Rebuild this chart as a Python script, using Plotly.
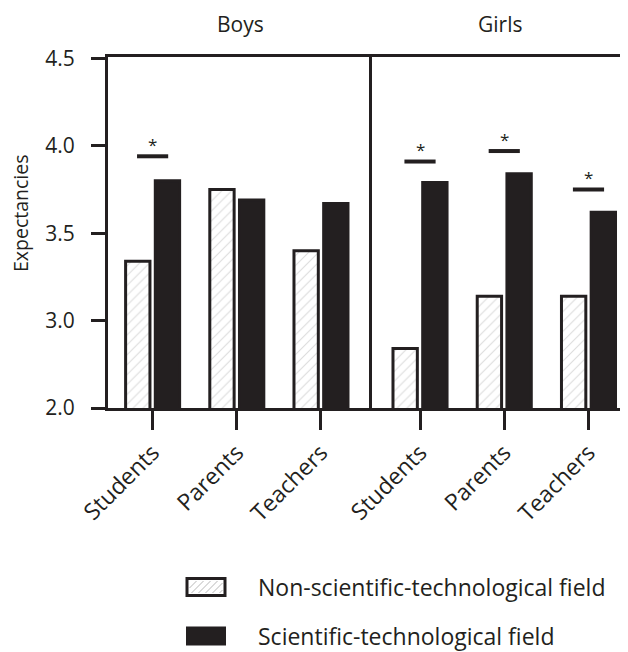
import plotly.graph_objects as go

# ---------------- data ----------------
categories = ["Students", "Parents", "Teachers"]
boys_non_sci = [3.34, 3.75, 3.40]
boys_sci = [3.80, 3.69, 3.67]
girls_non_sci = [2.84, 3.14, 3.14]
girls_sci = [3.79, 3.84, 3.62]
boys_sig = [3.94, None, None]      # height of significance bar (None = n.s.)
girls_sig = [3.91, 3.97, 3.75]
y_tick_vals = [2.5, 3.0, 3.5, 4.0, 4.5]
y_tick_text = ["2.0", "3.0", "3.5", "4.0", "4.5"]
panel_titles = ["Boys", "Girls"]
series_names = ["Non-scientific-technological field", "Scientific-technological field"]
y_title = "Expectancies"

# ---------------- layout constants ----------------
OFF = 8                      # default page body margin
W, H = 628 - OFF, 652 - OFF
L, R, T = 108 - OFF, 0, 57 - OFF
plot_bottom = 408 - OFF
B = H - plot_bottom
PW = W - L - R
PH = H - T - B
split_px = 372 - OFF
dom_split = (split_px - L) / PW
INK = "#231f20"
FONT = "Open Sans"


def pxx(x):
    """page pixel x -> paper"""
    return (x - OFF - L) / PW


def pxy(y):
    """page pixel y -> paper"""
    return (plot_bottom - (y - OFF)) / PH


fig = go.Figure()
x_idx = list(range(len(categories)))
panels = [
    (boys_non_sci, boys_sci, boys_sig, "x", "y"),
    (girls_non_sci, girls_sci, girls_sig, "x2", "y2"),
]
for non, sci, sig, xa, ya in panels:
    fig.add_trace(go.Bar(
        x=x_idx, y=non, xaxis=xa, yaxis=ya, name=series_names[0], showlegend=False,
        marker=dict(color="white", line=dict(color=INK, width=3),
                    pattern=dict(shape="/", fgcolor="#b8b8b8", bgcolor="white",
                                 size=7, solidity=0.15)),
        hoverinfo="y",
    ))
    fig.add_trace(go.Bar(
        x=x_idx, y=sci, xaxis=xa, yaxis=ya, name=series_names[1], showlegend=False,
        marker=dict(color=INK, line=dict(color=INK, width=3)),
        hoverinfo="y",
    ))

shapes = []
annotations = []
for non, sci, sig, xa, ya in panels:
    for i, s in enumerate(sig):
        if s is None:
            continue
        shapes.append(dict(type="line", xref=xa, yref=ya, x0=i - 0.185, x1=i + 0.185,
                           y0=s, y1=s, line=dict(color=INK, width=4)))
        annotations.append(dict(xref=xa, yref=ya, x=i, y=s, text="*", showarrow=False,
                                yanchor="middle", yshift=12,
                                font=dict(family=FONT, size=17, color=INK)))

# panel headers
for title, xa in zip(panel_titles, ["x domain", "x2 domain"]):
    annotations.append(dict(xref=xa, yref="paper", x=0.5, y=pxy(8), text=title,
                            showarrow=False, yanchor="top",
                            font=dict(family=FONT, size=21, color=INK)))

# y-axis title
annotations.append(dict(xref="paper", yref="paper", x=pxx(20), y=pxy(213), text=y_title,
                        textangle=-90, showarrow=False, xanchor="center", yanchor="middle",
                        font=dict(family=FONT, size=19.5, color=INK)))

# legend (drawn manually to match the wide swatches)
leg_rows = [587, 636]
bx0, bx1 = 187, 225
for k, (name, cy) in enumerate(zip(series_names, leg_rows)):
    y0, y1 = cy - 8.5, cy + 8.5
    if k == 0:
        shapes.append(dict(type="rect", xref="paper", yref="paper",
                           x0=pxx(bx0), x1=pxx(bx1), y0=pxy(y1), y1=pxy(y0),
                           fillcolor="white", line=dict(color=INK, width=3)))
        ix0, ix1, iy0, iy1 = bx0 + 2.5, bx1 - 2.5, y0 + 2.5, y1 - 2.5
        hgt = iy1 - iy0
        xs = ix0 - hgt
        while xs < ix1:
            t0 = max(0.0, ix0 - xs)
            t1 = min(hgt, ix1 - xs)
            if t1 > t0:
                shapes.append(dict(type="line", xref="paper", yref="paper",
                                   x0=pxx(xs + t0), y0=pxy(iy1 - t0),
                                   x1=pxx(xs + t1), y1=pxy(iy1 - t1),
                                   line=dict(color="#b8b8b8", width=1)))
            xs += 7
    else:
        shapes.append(dict(type="rect", xref="paper", yref="paper",
                           x0=pxx(bx0), x1=pxx(bx1), y0=pxy(y1), y1=pxy(y0),
                           fillcolor=INK, line=dict(color=INK, width=2)))
    annotations.append(dict(xref="paper", yref="paper", x=pxx(256), y=pxy(cy), text=name,
                            showarrow=False, xanchor="left", yanchor="middle",
                            font=dict(family=FONT, size=23, color=INK)))

y_range = [2.5, 4.508]
common_x = dict(tickvals=x_idx, ticktext=categories, tickangle=-45, ticks="outside",
                ticklen=19, tickwidth=3, tickcolor=INK, showline=True, linewidth=3,
                linecolor=INK, mirror=True, showgrid=False, zeroline=False,
                tickfont=dict(family=FONT, size=23, color=INK), fixedrange=True)

fig.update_layout(
    width=W, height=H,
    margin=dict(l=L, r=R, t=T, b=B, pad=0),
    paper_bgcolor="white", plot_bgcolor="white",
    barmode="group", bargap=0.295, bargroupgap=0.18,
    showlegend=False,
    font=dict(family=FONT, color=INK),
    xaxis=dict(domain=[0, dom_split], range=[-0.530, 2.606], anchor="y", **common_x),
    xaxis2=dict(domain=[dom_split, 1], range=[-0.570, 2.469], anchor="y2", **common_x),
    yaxis=dict(domain=[0, 1], range=y_range, anchor="x", tickvals=y_tick_vals,
               ticktext=y_tick_text, ticks="outside", ticklen=14, tickwidth=3,
               tickcolor=INK, showline=True, linewidth=3, linecolor=INK,
               showgrid=False, zeroline=False, ticklabelstandoff=12,
               tickfont=dict(family=FONT, size=21, color=INK)),
    yaxis2=dict(domain=[0, 1], range=y_range, anchor="x2", showline=True, linewidth=3,
                linecolor=INK, showticklabels=False, ticks="", showgrid=False,
                zeroline=False),
    shapes=shapes,
    annotations=annotations,
)

fig.write_html("out.html")
